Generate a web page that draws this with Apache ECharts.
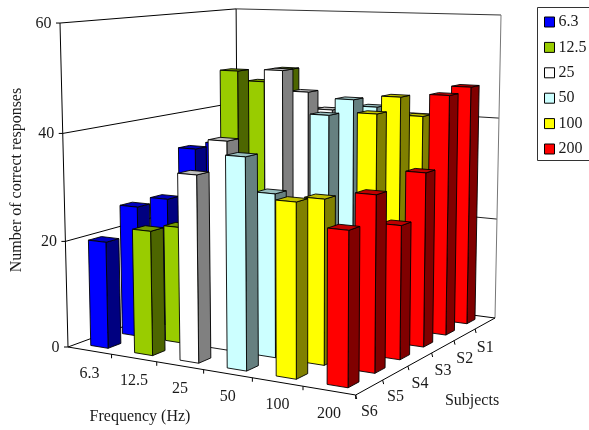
<!DOCTYPE html>
<html><head><meta charset="utf-8">
<style>html,body{margin:0;padding:0;background:#fff;overflow:hidden}#c{width:589px;height:430px}</style>
<script src="https://cdn.jsdelivr.net/npm/echarts@6/dist/echarts.min.js"></script></head>
<body><div id="c"></div><script>
const frequencies = ['6.3','12.5','25','50','100','200'];
const subjects = ['S1','S2','S3','S4','S5','S6'];
const valueTicks = [0,20,40,60];
// values per frequency, listed S1..S6
const f6_3  = [28,33.5,33.6,25,25,20];
const f12_5 = [48.3,46.6,49.5,26,22,23];
const f25   = [40.5,45,50,25,38.8,34];
const f50   = [41.6,44,42,24,30,37.9];
const f100  = [40.3,45,42.8,20,29.9,30.9];
const f200  = [46.5,45.8,32.6,24.5,31.5,27];
const seriesValues = [f6_3,f12_5,f25,f50,f100,f200];
const faceColors = ['#0000ff','#99cc00','#ffffff','#ccffff','#ffff00','#ff0000'];
const sideColors = ['#000080','#4d6600','#808080','#668080','#808000','#800000'];
const topColors  = ['#0000bf','#739900','#bfbfbf','#99bfbf','#bfbf00','#bf0000'];

// camera calibration: floor corners, vertical vanishing point, height factor
const L=[68,347],F=[355.7,395],R=[495,318],B=[238,284.3],VP=[304,9915],T=-0.03275;
const dx1=F[0]-R[0],dx2=B[0]-R[0],sx=L[0]-F[0]+R[0]-B[0];
const dy1=F[1]-R[1],dy2=B[1]-R[1],sy=L[1]-F[1]+R[1]-B[1];
const den=dx1*dy2-dx2*dy1;
const g=(sx*dy2-dx2*sy)/den,h=(dx1*sy-sx*dy1)/den;
const a=F[0]-L[0]+g*F[0],b=B[0]-L[0]+h*B[0],d=F[1]-L[1]+g*F[1],e=B[1]-L[1]+h*B[1];
function proj(u,v,w){
  const X=a*u+b*v+L[0]+w*T*VP[0],Y=d*u+e*v+L[1]+w*T*VP[1],W=g*u+h*v+1+w*T;
  return [X/W,Y/W];
}
const GRID=100;
const GAP=0.3;
function barRender(si){return function(params,api){
  const fi=api.value(0),val=api.value(1),sub=api.value(2);
  const c0=api.coord([fi,0]),c1=api.coord([fi,val]);
  const bw=api.size([1,0])[0];
  const u0=(c0[0]-bw/2+GAP*bw)/GRID,u1=(c0[0]+bw/2-GAP*bw)/GRID;
  const w=(c0[1]-c1[1])/GRID;
  const dep=subjects.length-1-sub,n=subjects.length;
  const v0=(dep+GAP)/n,v1=(dep+1-GAP)/n;
  const st=fill=>({fill:fill,stroke:'#000',lineWidth:0.9,lineJoin:'round'});
  const z2=si*10+dep*-1+5;
  const poly=(pts,fill)=>({type:'polygon',z2:z2,shape:{points:pts},style:st(fill)});
  return {type:'group',children:[
    poly([proj(u1,v0,0),proj(u1,v1,0),proj(u1,v1,w),proj(u1,v0,w)],sideColors[si]),
    poly([proj(u0,v0,w),proj(u1,v0,w),proj(u1,v1,w),proj(u0,v1,w)],topColors[si]),
    poly([proj(u0,v0,0),proj(u1,v0,0),proj(u1,v0,w),proj(u0,v0,w)],faceColors[si])
  ]};
};}
const series=frequencies.map((name,si)=>({
  name:name,type:'custom',coordinateSystem:'cartesian2d',silent:true,
  itemStyle:{color:faceColors[si]},
  encode:{x:0,y:1},
  renderItem:barRender(si),
  data:seriesValues[si].map((v,s)=>[si,v,s])
}));
const line=(p,q,color,lw)=>({type:'line',silent:true,shape:{x1:p[0],y1:p[1],x2:q[0],y2:q[1]},style:{stroke:color||'#000',lineWidth:lw||1}});
const FONT='16px "Liberation Serif"';
const text=(s,x,y,opt)=>Object.assign({type:'text',silent:true,x:x,y:y,style:{text:s,font:FONT,fill:'#1a1a1a',align:'center',verticalAlign:'middle'}},opt||{});
const gr=[];
valueTicks.forEach(t=>{
  const w=t/60;
  if(t>0){gr.push(line(proj(0,0,w),proj(0,1,w)),line(proj(0,1,w),proj(1,1,w),t===60?'#333':'#222'));}
  const p=proj(0,0,w);
  gr.push(line([p[0]-4,p[1]],p));
  gr.push({type:'text',silent:true,x:p[0]-8.5,y:p[1]+0.5,style:{text:String(t),font:FONT,fill:'#1a1a1a',align:'right',verticalAlign:'middle'}});
});
gr.push(line(proj(0,0,0),proj(0,0,1)),line(proj(0,1,0),proj(0,1,1)),line(proj(1,1,0),proj(1,1,1),'#777'));
gr.push(line(proj(0,0,0),proj(0,1,0)),line(proj(0,1,0),proj(1,1,0)),line(proj(0,0,0),proj(1,0,0)),line(proj(1,0,0),proj(1,1,0)));
frequencies.forEach((f,i)=>{
  const p=proj((i+1)/6,0,0);
  gr.push(line(p,[p[0],p[1]+4]));
  const m=proj((i+.5)/6,0,0);
  gr.push(text(f,m[0],m[1]+23));
});
subjects.forEach((s,i)=>{
  const dep=5-i;
  const p=proj(1,dep/6,0);
  gr.push(line(p,[p[0]+1,p[1]+4]));
  const m=proj(1,(dep+.5)/6,0);
  gr.push(text(s,m[0],m[1]+24));
});
gr.push(text('Frequency (Hz)',140,417));
gr.push(text('Subjects',472,401));
gr.push(text('Number of correct responses',17,180,{rotation:Math.PI/2}));
gr.push({type:'rect',silent:true,shape:{x:537.5,y:7.5,width:80,height:153},style:{fill:'#fff',stroke:'#333',lineWidth:1}});

const chart=echarts.init(document.getElementById('c'),null,{renderer:'canvas'});
chart.setOption({
  animation:false,
  grid:{left:0,top:0,width:GRID,height:GRID,show:false},
  xAxis:{type:'category',data:frequencies,show:false},
  yAxis:{type:'value',min:valueTicks[0],max:valueTicks[valueTicks.length-1],interval:20,show:false},
  legend:{data:frequencies,orient:'vertical',left:538,top:7,padding:[7,0,3.5,6],
    icon:'rect',itemWidth:10,itemHeight:10,itemGap:9.4,selectedMode:false,
    itemStyle:{borderColor:'#000',borderWidth:1},
    textStyle:{fontFamily:'Liberation Serif',fontSize:16,color:'#1a1a1a',padding:[0,0,0,-1]}},
  graphic:{elements:gr},
  series:series
});
</script></body></html>
